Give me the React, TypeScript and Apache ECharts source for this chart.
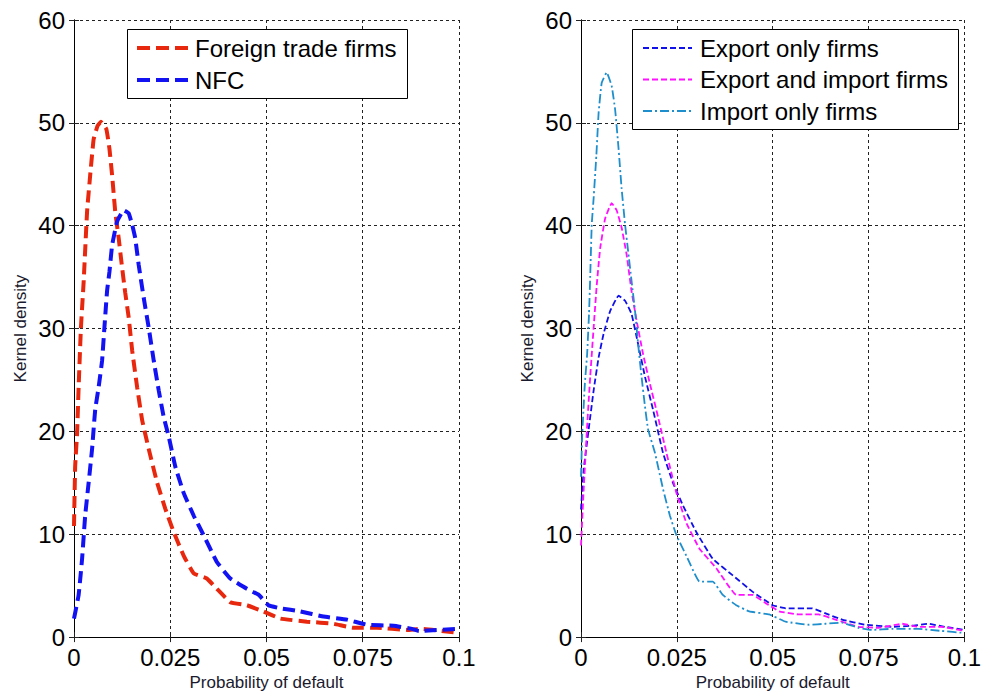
import React, { useEffect, useRef } from "react";
import * as echarts from "echarts";

// ---- data (x = probability of default, y = kernel density) ----
const xTickLabels = ["0", "0.025", "0.05", "0.075", "0.1"];
const yTicks = [0, 10, 20, 30, 40, 50, 60];

const foreignTrade: number[][] = [
  [0, 10.8], [0.0003, 16.6], [0.0008, 19.8], [0.0012, 24.3], [0.0018, 30.1], [0.0025, 34.5],
  [0.0034, 41.4], [0.0042, 44.9], [0.0051, 48.4], [0.0061, 49.7], [0.007, 50.1], [0.0084, 49.4],
  [0.0092, 47.5], [0.0099, 44.9], [0.0107, 41.4], [0.0116, 38.8], [0.0125, 35.9], [0.0133, 33.5],
  [0.0142, 31.1], [0.0151, 27.9], [0.0164, 24.3], [0.0177, 21.1], [0.0194, 18.3], [0.0216, 15.0],
  [0.0237, 12.5], [0.0259, 10.2], [0.0285, 7.9], [0.0311, 6.2], [0.0345, 5.7], [0.0371, 4.7],
  [0.0406, 3.4], [0.0449, 3.1], [0.0492, 2.5], [0.0536, 1.8], [0.0605, 1.5], [0.0674, 1.3],
  [0.0726, 0.9], [0.0787, 0.9], [0.0865, 0.7], [0.09, 0.8], [0.1, 0.4],
];

const nfc: number[][] = [
  [0, 1.8], [0.0012, 4.1], [0.0021, 7.6], [0.0029, 11.8], [0.0038, 15], [0.0047, 18.3],
  [0.0055, 22.1], [0.0064, 24.3], [0.0073, 26.9], [0.0079, 30.1], [0.0086, 33.7], [0.0092, 35.5],
  [0.0099, 38.1], [0.0112, 40.4], [0.0129, 41.5], [0.0142, 41.2], [0.0151, 40.1], [0.0159, 38.8],
  [0.0168, 36.2], [0.0181, 33.0], [0.0194, 30.1], [0.0207, 26.9], [0.022, 24], [0.0233, 21.4],
  [0.0246, 19.5], [0.0263, 16.6], [0.0285, 14], [0.0311, 11.8], [0.0337, 9.9], [0.0371, 7.3],
  [0.0406, 5.7], [0.0449, 4.7], [0.048, 4.1], [0.0505, 3.1], [0.0536, 2.8], [0.0588, 2.5],
  [0.0648, 2.0], [0.0709, 1.7], [0.0761, 1.2], [0.083, 1.1], [0.0878, 0.8], [0.0896, 0.6], [0.1, 0.8],
];

const exportOnly: number[][] = [
  [0, 12.4], [0.0007, 16.3], [0.002, 20.2], [0.0033, 24], [0.0046, 27.2], [0.0059, 29.5],
  [0.0076, 31.7], [0.0098, 33.2], [0.0115, 32.7], [0.0132, 31.4], [0.0149, 28.5], [0.0167, 25.3],
  [0.0188, 22.1], [0.0214, 17.9], [0.024, 15], [0.0266, 12.8], [0.0301, 10.2], [0.0344, 7.6],
  [0.0396, 6], [0.0448, 4.4], [0.05, 3.1], [0.0534, 2.8], [0.0603, 2.8], [0.0638, 2.3],
  [0.0681, 1.7], [0.0742, 1.2], [0.0811, 1.0], [0.0863, 1.1], [0.0906, 1.3], [0.0949, 1.0], [0.1, 0.7],
];

const exportImport: number[][] = [
  [0, 8.9], [0.0007, 14.4], [0.0016, 20.5], [0.0024, 25.3], [0.0033, 30.1], [0.0041, 34.2],
  [0.005, 37.8], [0.0063, 40.7], [0.008, 42.2], [0.0093, 41.5], [0.0106, 39.8], [0.0119, 37.2],
  [0.0132, 33.6], [0.0145, 30.8], [0.0162, 27.5], [0.018, 24.6], [0.0201, 21.4], [0.0223, 17.9],
  [0.0249, 14], [0.0275, 11.1], [0.0309, 8.6], [0.0353, 6.7], [0.0405, 4.1], [0.0448, 4.1],
  [0.0482, 3.3], [0.0517, 2.5], [0.0569, 2.2], [0.062, 2.2], [0.0664, 1.7], [0.0724, 1.0],
  [0.0776, 0.9], [0.0837, 1.3], [0.088, 1.0], [0.094, 1.0], [0.1, 0.6],
];

const importOnly: number[][] = [
  [0, 15.6], [0.0003, 19.5], [0.001, 24.6], [0.0016, 27.5], [0.0021, 31.5], [0.0024, 35],
  [0.0028, 40.1], [0.0033, 42.7], [0.004, 46.8], [0.0046, 51], [0.0054, 53.9], [0.0067, 54.9],
  [0.008, 53.6], [0.0089, 51.3], [0.0098, 47.5], [0.0106, 43.6], [0.0115, 40.1], [0.0123, 37.5],
  [0.0132, 34.6], [0.0141, 31.7], [0.0149, 28.5], [0.0158, 25.3], [0.0167, 22.4], [0.0175, 20.2],
  [0.0193, 17.9], [0.0214, 14.4], [0.0232, 11.8], [0.0249, 9.9], [0.0275, 7.9], [0.0309, 5.4],
  [0.0344, 5.4], [0.037, 4.1], [0.0405, 3.1], [0.0439, 2.5], [0.0491, 2.2], [0.0534, 1.5],
  [0.0595, 1.2], [0.0638, 1.3], [0.0681, 1.4], [0.0724, 0.9], [0.0759, 0.7], [0.0811, 0.8],
  [0.088, 0.8], [0.094, 0.6], [0.1, 0.4],
];

const leftNames = ["Foreign trade firms", "NFC"];
const rightNames = ["Export only firms", "Export and import firms", "Import only firms"];

const FONT = "'Liberation Sans', Arial, sans-serif";
const RED = "#e8280e";
const BLUE = "#1212f2";
const MAGENTA = "#ff10ff";
const BLUE2 = "#1010e8";
const CYAN = "#1e8ecc";

export default function App() {
  const ref = useRef<HTMLDivElement>(null);

  useEffect(() => {
    document.body.style.margin = "0";
    const chart = echarts.init(ref.current!, null, { renderer: "svg" });

    const xMain = (gridIndex: number) => ({
      gridIndex,
      type: "value",
      min: 0,
      max: 0.1,
      interval: 0.025,
      position: "bottom",
      name: "Probability of default",
      nameLocation: "middle",
      nameGap: 34,
      nameTextStyle: { fontSize: 17, fontFamily: FONT, color: "#1a1a2e" },
      axisLine: { show: true, lineStyle: { color: "#222", width: 1 } },
      axisTick: { show: true, inside: true, length: 5, lineStyle: { color: "#222" } },
      axisLabel: {
        fontSize: 24,
        fontFamily: FONT,
        color: "#000",
        margin: 8,
        formatter: (v: number) => xTickLabels[Math.round(v / 0.025)] ?? "",
      },
      splitLine: { show: true, lineStyle: { color: "#222", type: [3, 3], width: 1 } },
    });
    const xTop = (gridIndex: number) => ({
      gridIndex,
      type: "value",
      min: 0,
      max: 0.1,
      interval: 0.025,
      position: "top",
      axisLine: { show: true, lineStyle: { color: "#000", width: 1 } },
      axisTick: { show: true, inside: true, length: 5, lineStyle: { color: "#222" } },
      axisLabel: { show: false },
      splitLine: { show: false },
    });
    const yMain = (gridIndex: number) => ({
      gridIndex,
      type: "value",
      min: 0,
      max: 60,
      interval: 10,
      position: "left",
      name: "Kernel density",
      nameLocation: "middle",
      nameGap: 45,
      nameTextStyle: { fontSize: 17, fontFamily: FONT, color: "#1a1a2e" },
      axisLine: { show: true, lineStyle: { color: "#222", width: 1 } },
      axisTick: { show: true, inside: true, length: 5, lineStyle: { color: "#222" } },
      axisLabel: {
        fontSize: 24,
        fontFamily: FONT,
        color: "#000",
        margin: 9,
        formatter: (v: number) => (yTicks.includes(v) ? String(v) : ""),
      },
      splitLine: { show: true, lineStyle: { color: "#222", type: [3, 3], width: 1 } },
    });
    const yRight = (gridIndex: number) => ({
      gridIndex,
      type: "value",
      min: 0,
      max: 60,
      interval: 10,
      position: "right",
      axisLine: { show: true, lineStyle: { color: "#000", width: 1 } },
      axisTick: { show: true, inside: true, length: 5, lineStyle: { color: "#222" } },
      axisLabel: { show: false },
      splitLine: { show: false },
    });

    const line = (
      name: string,
      data: number[][],
      xi: number,
      yi: number,
      color: string,
      width: number,
      dash: number[]
    ) => ({
      name,
      type: "line",
      xAxisIndex: xi,
      yAxisIndex: yi,
      data,
      showSymbol: false,
      symbol: "none",
      smooth: 0.1,
      lineStyle: { color, width, type: dash },
      z: 3,
    });

    const legendBox = (
      x: number,
      y: number,
      w: number,
      h: number,
      names: string[],
      styles: { color: string; width: number; dash: number[] }[],
      rowYs: number[],
      lx1: number,
      lx2: number,
      tx: number
    ) => {
      const children: any[] = [
        {
          type: "rect",
          shape: { x, y, width: w, height: h },
          style: { fill: "#fff", stroke: "#000", lineWidth: 1 },
          z: 100,
        },
      ];
      names.forEach((n, i) => {
        children.push({
          type: "line",
          shape: { x1: lx1, y1: rowYs[i], x2: lx2, y2: rowYs[i] },
          style: { stroke: styles[i].color, lineWidth: styles[i].width, lineDash: styles[i].dash },
          z: 101,
        });
        children.push({
          type: "text",
          x: tx,
          y: rowYs[i],
          style: {
            text: n,
            fontSize: 24,
            fontFamily: FONT,
            fill: "#000",
            align: "left",
            verticalAlign: "middle",
          },
          z: 101,
        });
      });
      return children;
    };

    const leftStyles = [
      { color: RED, width: 4, dash: [13, 6] },
      { color: BLUE, width: 4, dash: [13, 6] },
    ];
    const rightStyles = [
      { color: BLUE2, width: 1.8, dash: [6, 3] },
      { color: MAGENTA, width: 1.8, dash: [6, 3] },
      { color: CYAN, width: 1.8, dash: [9, 3, 2, 3] },
    ];

    chart.setOption({
      animation: false,
      backgroundColor: "#fff",
      grid: [
        { left: 74, top: 20, width: 385, height: 622, containLabel: false },
        { left: 581, top: 20, width: 385, height: 622, containLabel: false },
      ],
      xAxis: [xMain(0), xTop(0), xMain(1), xTop(1)],
      yAxis: [yMain(0), yRight(0), yMain(1), yRight(1)],
      series: [
        line(leftNames[0], foreignTrade, 0, 0, RED, 4, [12, 6]),
        line(leftNames[1], nfc, 0, 0, BLUE, 4, [12, 6]),
        line(rightNames[0], exportOnly, 2, 2, BLUE2, 1.8, [6, 3]),
        line(rightNames[1], exportImport, 2, 2, MAGENTA, 1.8, [6, 3]),
        line(rightNames[2], importOnly, 2, 2, CYAN, 1.8, [9, 3, 2, 3]),
      ],
      graphic: [
        ...legendBox(127.5, 29.5, 280, 69, leftNames, leftStyles, [48, 80], 137, 188, 195),
        ...legendBox(632.5, 29.5, 326, 100, rightNames, rightStyles, [48, 79.5, 111], 643, 692, 700),
      ],
    });

    return () => chart.dispose();
  }, []);

  return <div ref={ref} style={{ width: 984, height: 696 }} />;
}
